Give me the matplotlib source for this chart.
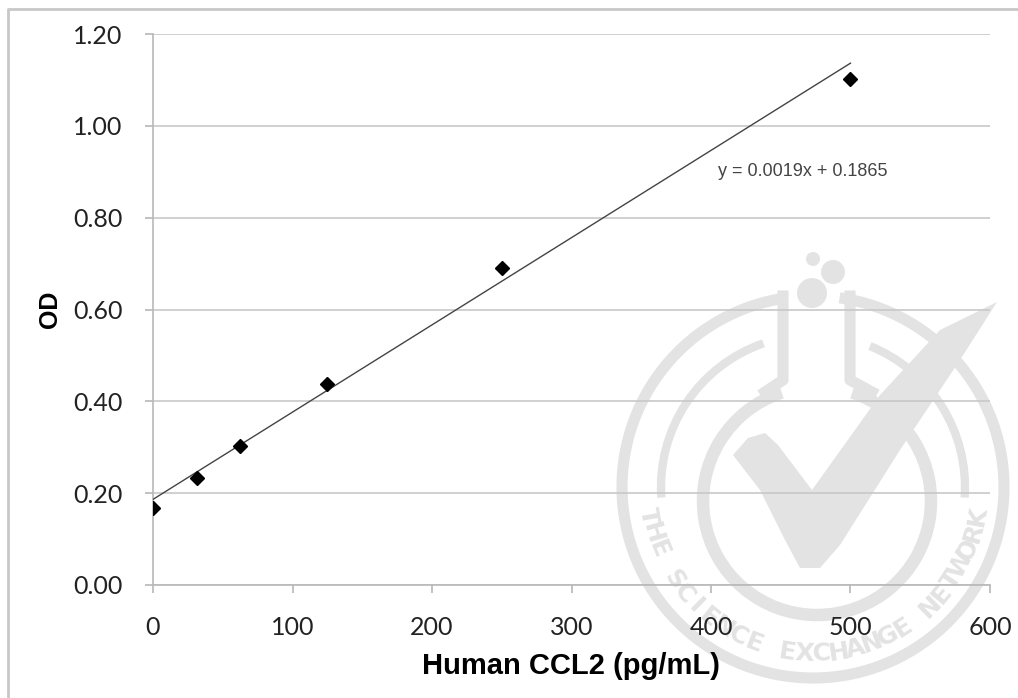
import numpy as np
import matplotlib.pyplot as plt
from matplotlib.patches import Circle, Arc, Polygon
from matplotlib.lines import Line2D

# standard curve data
conc = [0, 31.25, 62.5, 125, 250, 500]
od = [0.168, 0.233, 0.303, 0.438, 0.691, 1.102]
slope, intercept = 0.0019, 0.1865
eq_text = "y = 0.0019x + 0.1865"
x_ticks = [0, 100, 200, 300, 400, 500, 600]
y_ticks = [0.0, 0.2, 0.4, 0.6, 0.8, 1.0, 1.2]

W, H = 1018, 698
fig = plt.figure(figsize=(W / 100, H / 100), dpi=100)
fig.patch.set_facecolor('white')

# watermark layer, in pixel coordinates (y up)
wm = fig.add_axes([0, 0, 1, 1], zorder=0)
wm.set_xlim(0, W)
wm.set_ylim(0, H)
wm.axis('off')
wcol = '#e3e3e3'
cx, cy = 813, H - 487

def py(y):
    return H - y

wm.add_patch(Arc((cx, cy), 382, 382, theta1=98, theta2=442, lw=8, color=wcol))
wm.add_patch(Arc((817, py(501)), 228, 228, theta1=108, theta2=432, lw=9, color=wcol))
wm.add_patch(Arc((cx, cy), 304, 304, theta1=109, theta2=184, lw=6, color=wcol))
wm.add_patch(Arc((cx, cy), 304, 304, theta1=-4, theta2=68, lw=6, color=wcol))
# flask neck
wm.plot([783, 783, 765], [py(296), py(380), py(392)], color=wcol, lw=8)
wm.plot([850, 850, 872], [py(296), py(380), py(392)], color=wcol, lw=8)
for (bx, by, br) in [(812, 293, 15), (833, 272, 12), (813, 259, 7)]:
    wm.add_patch(Circle((bx, py(by)), br, color=wcol, lw=0))
chk = [(733, 455), (748, 438), (765, 433), (778, 445), (812, 490), (880, 395),
       (940, 330), (997, 302), (960, 360), (900, 450), (840, 545), (820, 568),
       (800, 568), (785, 540), (760, 490)]
wm.add_patch(Polygon([(a, py(b)) for a, b in chk], closed=True, color=wcol, lw=0))
txt = "THE SCIENCE EXCHANGE NETWORK"
angs = np.linspace(190, 350, len(txt))
for ch, a in zip(txt, angs):
    r = 167
    wm.text(cx + r * np.cos(np.radians(a)), cy + r * np.sin(np.radians(a)), ch,
            rotation=a + 90, ha='center', va='center', fontsize=18, fontweight='bold',
            color=wcol, family='DejaVu Sans')

# image frame
fig.add_artist(Line2D([8 / W, 8 / W, 1], [0, 1 - 9 / H, 1 - 9 / H], color='#c8c8c8', lw=2))

ax = fig.add_axes([153 / W, 1 - 585 / H, (990 - 153) / W, (585 - 34) / H], zorder=1)
ax.set_facecolor('none')

xs = np.array([0, 500])
ax.plot(xs, slope * xs + intercept, color='#444444', lw=1, zorder=3)
ax.plot(conc, od, linestyle='none', marker='D', markersize=7, color='black', zorder=4)

ax.set_xlim(0, 600)
ax.set_ylim(0, 1.2)
ax.set_xticks(x_ticks)
ax.set_yticks(y_ticks)
ax.set_xticklabels([str(v) for v in x_ticks])
ax.set_yticklabels([f"{v:.2f}" for v in y_ticks])
ax.yaxis.grid(True, color='#c8c8c8', lw=1.2)
ax.set_axisbelow(True)
for s in ['top', 'right']:
    ax.spines[s].set_visible(False)
for s in ['left', 'bottom']:
    ax.spines[s].set_color('#b8b8b8')
    ax.spines[s].set_linewidth(1.2)
ax.tick_params(axis='both', colors='#b8b8b8', labelcolor='#222222', labelsize=18,
               length=6, width=1.2)
ax.tick_params(axis='x', pad=16)
ax.tick_params(axis='y', pad=16)
for lab in ax.get_xticklabels() + ax.get_yticklabels():
    lab.set_family('Lato')

ax.set_xlabel('Human CCL2 (pg/mL)', fontsize=21, fontweight='bold',
              family='Liberation Sans', labelpad=10)
ax.set_ylabel('OD', fontsize=18, fontweight='bold', family='Liberation Sans', labelpad=8)
ax.text(405, 0.90, eq_text, fontsize=13, color='#444444', family='Liberation Sans',
        va='center')

fig.savefig('out.png', dpi=100)
